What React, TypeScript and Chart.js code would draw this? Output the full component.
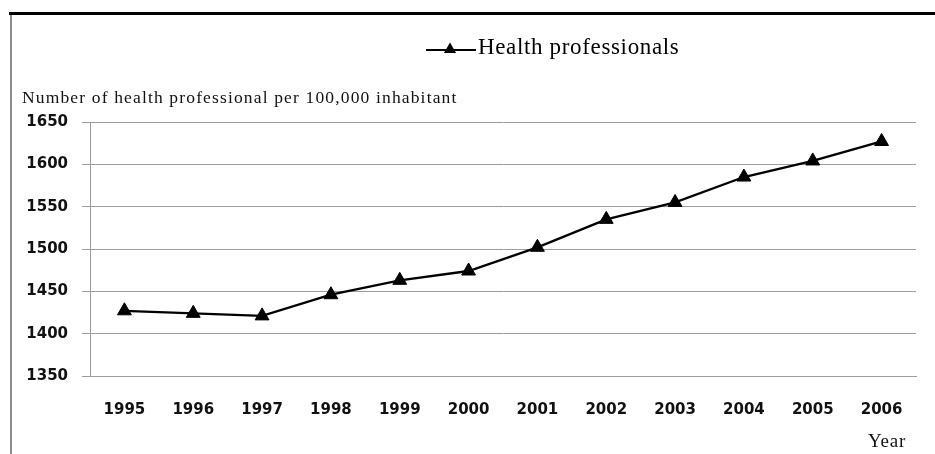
import React, { useEffect, useRef } from "react";
import { Chart, registerables } from "chart.js";

Chart.register(...registerables);

const years = ["1995", "1996", "1997", "1998", "1999", "2000", "2001", "2002", "2003", "2004", "2005", "2006"];
const healthProfessionals = [1427, 1424, 1421, 1446, 1463, 1474, 1502, 1535, 1555, 1585, 1604, 1627];
const seriesLabel = "Health professionals";
const yAxisTitle = "Number of health professional per 100,000 inhabitant";
const xAxisTitle = "Year";
const yMin = 1350;
const yMax = 1650;
const yStep = 50;

const GRID = "#9c9c9c";

const decorPlugin = {
  id: "decor",
  beforeDraw(chart: any) {
    const ctx = chart.ctx;
    ctx.save();
    // frame
    ctx.fillStyle = "#000";
    ctx.fillRect(9, 12, 935 - 9, 3);
    ctx.fillStyle = "#8a8a8a";
    ctx.fillRect(10, 15, 2, 454 - 15);
    ctx.restore();
  },
  afterDraw(chart: any) {
    const ctx = chart.ctx;
    ctx.save();
    // legend
    ctx.strokeStyle = "#000";
    ctx.lineWidth = 2;
    ctx.beginPath();
    ctx.moveTo(426, 50);
    ctx.lineTo(476, 50);
    ctx.stroke();
    ctx.fillStyle = "#000";
    ctx.beginPath();
    const cx = 450, cy = 49.5, r = 7;
    ctx.moveTo(cx, cy - r);
    ctx.lineTo(cx + r * 0.866, cy + r / 2);
    ctx.lineTo(cx - r * 0.866, cy + r / 2);
    ctx.closePath();
    ctx.fill();
    ctx.fillStyle = "#000";
    ctx.textBaseline = "alphabetic";
    ctx.textAlign = "left";
    ctx.font = "23px 'Liberation Serif'";
    (ctx as any).letterSpacing = "0.65px";
    ctx.fillText(seriesLabel, 478, 53.5);
    // y title
    ctx.fillStyle = "#111";
    ctx.font = "17.5px 'Liberation Serif'";
    (ctx as any).letterSpacing = "1.15px";
    ctx.fillText(yAxisTitle, 22, 102.5);
    // x title
    ctx.font = "19px 'Liberation Serif'";
    (ctx as any).letterSpacing = "0.8px";
    ctx.fillText(xAxisTitle, 868, 446.5);
    ctx.restore();
  },
};

export default function App() {
  const ref = useRef<HTMLCanvasElement | null>(null);
  useEffect(() => {
    if (!ref.current) return;
    const chart = new Chart(ref.current, {
      type: "line",
      data: {
        labels: years,
        datasets: [
          {
            label: seriesLabel,
            data: healthProfessionals,
            borderColor: "#000",
            backgroundColor: "#000",
            borderWidth: 2.3,
            pointStyle: "triangle",
            pointRadius: 8,
            pointBorderWidth: 1,
            pointBackgroundColor: "#000",
            pointBorderColor: "#000",
            tension: 0,
          },
        ],
      },
      options: {
        animation: false,
        responsive: false,
        layout: { padding: { left: 0, top: 122, right: 19, bottom: 0 } },
        plugins: {
          legend: { display: false },
          title: { display: false },
          tooltip: { enabled: false },
        },
        scales: {
          x: {
            type: "category",
            offset: true,
            grid: { display: false, drawTicks: false },
            border: { display: true, color: GRID, width: 1 },
            ticks: {
              padding: 25,
              color: "#111",
              font: { family: "'DejaVu Sans'", size: 15, weight: "bold" },
              maxRotation: 0,
              autoSkip: false,
            },
            afterFit: (s: any) => {
              s.height = 454 - 376;
            },
          },
          y: {
            min: yMin,
            max: yMax,
            grid: { color: GRID, lineWidth: 1, drawTicks: true, tickLength: 8 },
            border: { display: true, color: GRID, width: 1 },
            ticks: {
              stepSize: yStep,
              padding: 14,
              color: "#111",
              font: { family: "'DejaVu Sans'", size: 15, weight: "bold" },
              callback: (v: any) => String(v),
            },
            afterFit: (s: any) => {
              s.width = 90;
            },
          },
        },
      },
      plugins: [decorPlugin],
    });
    return () => chart.destroy();
  }, []);
  return (
    <div style={{ position: "absolute", left: 0, top: 0, width: 935, height: 454, background: "#fff" }}>
      <canvas ref={ref} width={935} height={454} style={{ display: "block" }} />
    </div>
  );
}
